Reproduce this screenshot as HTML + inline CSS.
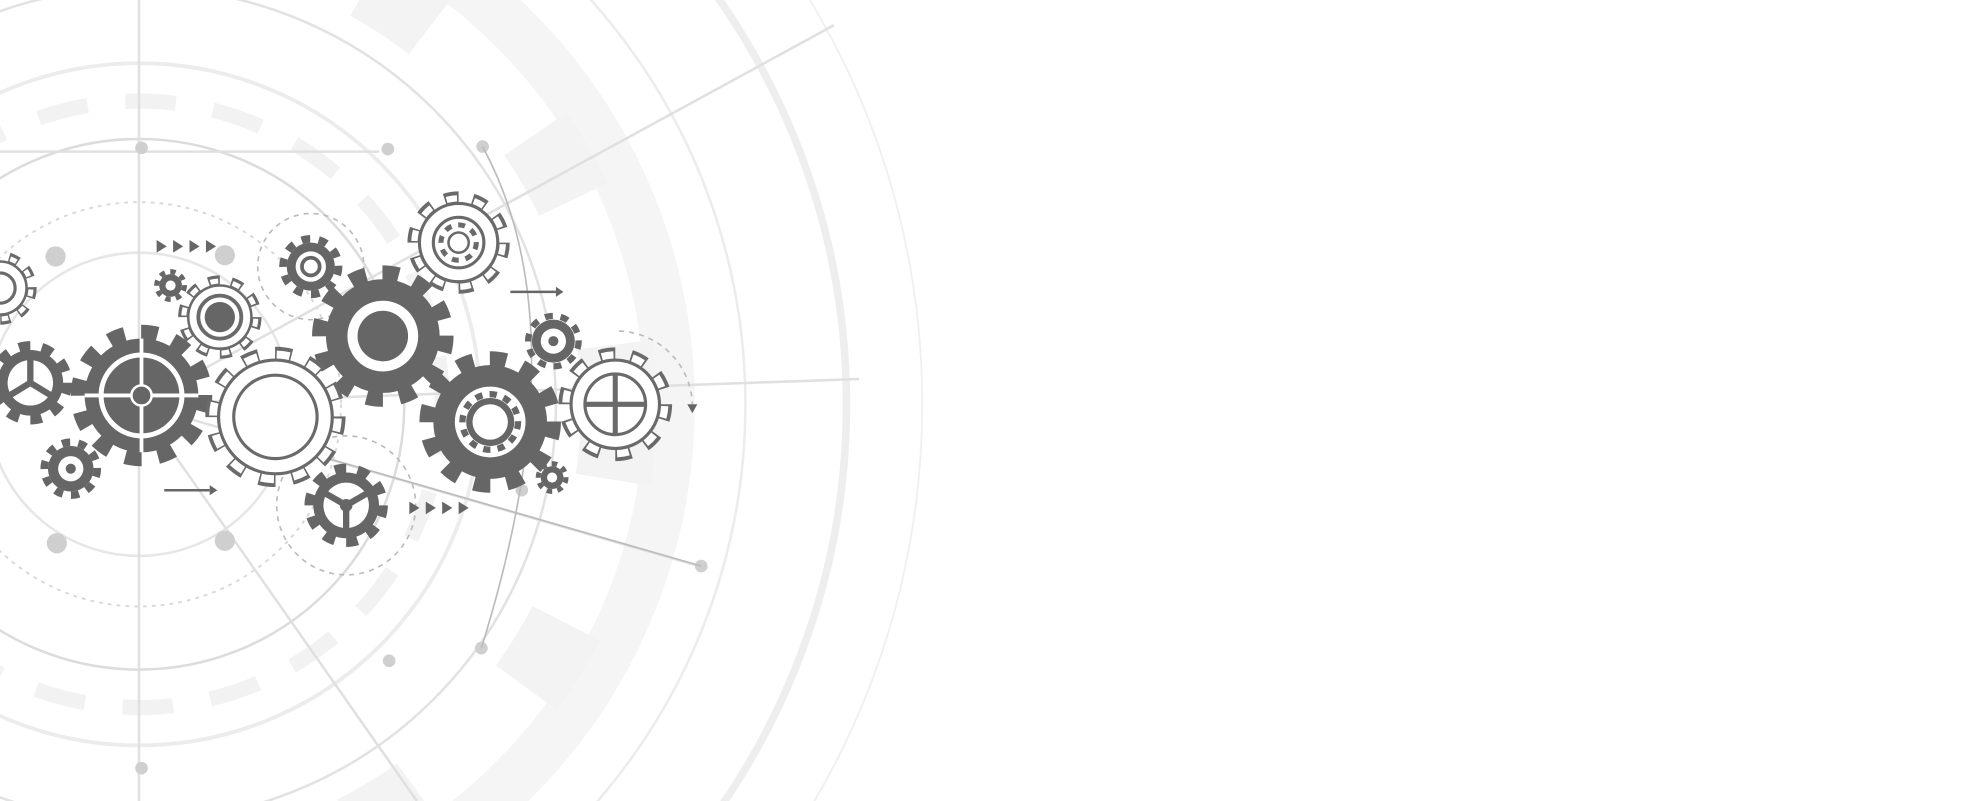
<!DOCTYPE html>
<html><head><meta charset="utf-8"><style>
html,body{margin:0;padding:0;background:#fff;width:1981px;height:801px;overflow:hidden}
svg{display:block}
</style></head><body>
<svg width="1981" height="801" viewBox="0 0 1568 634" preserveAspectRatio="none" xmlns="http://www.w3.org/2000/svg">
<rect width="1568" height="634" fill="#fff"/>
<g fill="none" stroke="#e6e6e6">
<circle cx="110" cy="320" r="120" stroke-width="2"/>
<circle cx="110" cy="320" r="160" stroke-width="1.5" stroke-dasharray="3 4" stroke="#d8d8d8"/>
<circle cx="110" cy="320" r="210" stroke-width="2" stroke="#dcdcdc"/>
<circle cx="110" cy="320" r="270" stroke-width="3" stroke="#ececec"/>
<circle cx="110" cy="320" r="330" stroke-width="2" stroke="#e2e2e2"/>
<circle cx="110" cy="320" r="420" stroke-width="40" stroke="#f5f5f5"/>
<circle cx="110" cy="320" r="480" stroke-width="2" stroke="#ececec"/>
<circle cx="110" cy="320" r="560" stroke-width="6" stroke="#eeeeee"/>
<circle cx="110" cy="320" r="620" stroke-width="1.5" stroke="#f0f0f0"/>
<circle cx="110" cy="320" r="240" stroke-width="12" stroke="#f2f2f2" stroke-dasharray="40 30"/>
<circle cx="110" cy="320" r="380" stroke-width="60" stroke="#f3f3f3" stroke-dasharray="60 120"/>
</g>
<g stroke="#e0e0e0" stroke-width="2">
<line x1="110" y1="320" x2="660" y2="20"/><line x1="110" y1="320" x2="680" y2="300"/>
<line x1="110" y1="320" x2="560" y2="450"/><line x1="110" y1="320" x2="330" y2="634"/>
<line x1="110" y1="0" x2="110" y2="634"/><line x1="0" y1="120" x2="300" y2="120"/>
</g>
<g fill="#cfcfcf">
<circle cx="112" cy="117" r="5"/><circle cx="307" cy="118" r="5"/><circle cx="382" cy="116" r="5"/>
<circle cx="44" cy="203" r="8"/><circle cx="178" cy="202" r="8"/><circle cx="45" cy="430" r="8"/>
<circle cx="178" cy="428" r="8"/><circle cx="555" cy="448" r="5"/><circle cx="381" cy="513" r="5"/>
<circle cx="308" cy="523" r="5"/><circle cx="112" cy="608" r="5"/><circle cx="413" cy="388" r="5"/>
</g>
<g fill="none" stroke="#bbb" stroke-width="1.3">
<path d="M382 116 Q460 260 381 513"/><path d="M180 340 L555 448"/>
<circle cx="274" cy="400" r="55" stroke-dasharray="4 4"/>
<circle cx="246" cy="211" r="42" stroke-dasharray="4 4"/>
<path d="M490 262 A60 60 0 0 1 548 320" stroke-dasharray="4 4"/>
</g>
<g fill="#666"><polygon points="124,190 132,195 124,200"/><polygon points="137,190 145,195 137,200"/><polygon points="150,190 158,195 150,200"/><polygon points="163,190 171,195 163,200"/>
<polygon points="324,397 332,402 324,407"/><polygon points="337,397 345,402 337,407"/><polygon points="350,397 358,402 350,407"/><polygon points="363,397 371,402 363,407"/>
<polygon points="544,320 552,320 548,327"/></g>
<g stroke="#666" stroke-width="2"><line x1="404" y1="231" x2="440" y2="231"/><line x1="130" y1="388" x2="166" y2="388"/></g>
<polygon points="440,227 446,231 440,235" fill="#666"/><polygon points="166,384 172,388 166,392" fill="#666"/>

<circle cx="112" cy="313" r="50" fill="none" stroke="#666" stroke-width="12" pathLength="24" stroke-dasharray="1 1"/>
<circle cx="112" cy="313" r="45" fill="#666"/>
<circle cx="112" cy="313" r="32" fill="none" stroke="#fff" stroke-width="4"/>
<line x1="67" y1="313" x2="157" y2="313" stroke="#fff" stroke-width="3"/><line x1="112" y1="268" x2="112" y2="358" stroke="#fff" stroke-width="3"/>
<circle cx="112" cy="313" r="8" fill="#666" stroke="#fff" stroke-width="2"/>
<circle cx="303" cy="266" r="50" fill="none" stroke="#666" stroke-width="12" pathLength="24" stroke-dasharray="1 1"/>
<circle cx="303" cy="266" r="45" fill="#666"/><circle cx="303" cy="266" r="28" fill="#fff"/><circle cx="303" cy="266" r="20" fill="#666"/>
<circle cx="388" cy="334" r="50" fill="none" stroke="#666" stroke-width="12" pathLength="24" stroke-dasharray="1 1"/>
<circle cx="388" cy="334" r="45" fill="#666"/><circle cx="388" cy="334" r="28" fill="#fff"/>
<circle cx="388" cy="334" r="22" fill="none" stroke="#666" stroke-width="5" pathLength="24" stroke-dasharray="1 1"/><circle cx="388" cy="334" r="19" fill="#666"/><circle cx="388" cy="334" r="14" fill="#fff"/>
<circle cx="274" cy="400" r="29" fill="none" stroke="#666" stroke-width="8" pathLength="20" stroke-dasharray="1 1"/>
<circle cx="274" cy="400" r="26" fill="#666"/><circle cx="274" cy="400" r="18" fill="#fff"/>
<g stroke="#666" stroke-width="5"><line x1="274" y1="400" x2="274" y2="422"/><line x1="274" y1="400" x2="255" y2="389"/><line x1="274" y1="400" x2="293" y2="389"/></g><circle cx="274" cy="400" r="5" fill="#666"/>
<circle cx="24" cy="303" r="29" fill="none" stroke="#666" stroke-width="8" pathLength="20" stroke-dasharray="1 1"/>
<circle cx="24" cy="303" r="26" fill="#666"/><circle cx="24" cy="303" r="18" fill="#fff"/>
<g stroke="#666" stroke-width="5"><line x1="24" y1="303" x2="24" y2="283"/><line x1="24" y1="303" x2="6" y2="314"/><line x1="24" y1="303" x2="42" y2="314"/></g>
<circle cx="246" cy="211" r="22" fill="none" stroke="#666" stroke-width="6" pathLength="20" stroke-dasharray="1 1"/>
<circle cx="246" cy="211" r="19" fill="#666"/><circle cx="246" cy="211" r="12" fill="#fff"/><circle cx="246" cy="211" r="7" fill="none" stroke="#666" stroke-width="3"/>
<circle cx="56" cy="371" r="21" fill="none" stroke="#666" stroke-width="6" pathLength="20" stroke-dasharray="1 1"/>
<circle cx="56" cy="371" r="18" fill="#666"/><circle cx="56" cy="371" r="10" fill="#fff"/><circle cx="56" cy="371" r="4" fill="#666"/>
<circle cx="438" cy="270" r="20" fill="none" stroke="#666" stroke-width="5" pathLength="20" stroke-dasharray="1 1"/>
<circle cx="438" cy="270" r="17" fill="#666"/><circle cx="438" cy="270" r="10" fill="#fff"/><circle cx="438" cy="270" r="4" fill="#666"/>
<circle cx="135" cy="226" r="11" fill="none" stroke="#666" stroke-width="4" pathLength="16" stroke-dasharray="1 1"/>
<circle cx="135" cy="226" r="9" fill="#666"/><circle cx="135" cy="226" r="4" fill="#fff"/>
<circle cx="437" cy="378" r="11" fill="none" stroke="#666" stroke-width="4" pathLength="16" stroke-dasharray="1 1"/>
<circle cx="437" cy="378" r="9" fill="#666"/><circle cx="437" cy="378" r="4" fill="#fff"/>

<g fill="#fff" stroke="#6a6a6a">
<circle cx="218" cy="330" r="50" fill="none" stroke-width="11" pathLength="24" stroke-dasharray="1 1" stroke="#6a6a6a"/>
<circle cx="218" cy="330" r="49" fill="none" stroke-width="7" pathLength="24" stroke-dasharray="0.8 1.2" stroke-dashoffset="-0.1" stroke="#fff"/>
<circle cx="218" cy="330" r="45" stroke-width="2.5"/><circle cx="218" cy="330" r="33" stroke-width="2.5"/>
<circle cx="487" cy="320" r="40" fill="none" stroke-width="10" pathLength="20" stroke-dasharray="1 1" stroke="#6a6a6a"/>
<circle cx="487" cy="320" r="39" fill="none" stroke-width="6" pathLength="20" stroke-dasharray="0.76 1.24" stroke-dashoffset="-0.12" stroke="#fff"/>
<circle cx="487" cy="320" r="35" stroke-width="2.5"/><circle cx="487" cy="320" r="24" stroke-width="2.5"/>
<line x1="463" y1="320" x2="511" y2="320" stroke-width="4"/><line x1="487" y1="296" x2="487" y2="344" stroke-width="4"/>
<circle cx="363" cy="192" r="36" fill="none" stroke-width="9" pathLength="20" stroke-dasharray="1 1" stroke="#6a6a6a"/>
<circle cx="363" cy="192" r="35" fill="none" stroke-width="5" pathLength="20" stroke-dasharray="0.76 1.24" stroke-dashoffset="-0.12" stroke="#fff"/>
<circle cx="363" cy="192" r="31" stroke-width="2.5"/><circle cx="363" cy="192" r="20" stroke-width="2.5"/>
<circle cx="363" cy="192" r="14" fill="none" stroke-width="4" pathLength="16" stroke-dasharray="1 1"/><circle cx="363" cy="192" r="8" stroke-width="2"/>
<circle cx="174" cy="251" r="29" fill="none" stroke-width="8" pathLength="20" stroke-dasharray="1 1" stroke="#6a6a6a"/>
<circle cx="174" cy="251" r="28.5" fill="none" stroke-width="4" pathLength="20" stroke-dasharray="0.7 1.3" stroke-dashoffset="-0.15" stroke="#fff"/>
<circle cx="174" cy="251" r="25" stroke-width="2"/><circle cx="174" cy="251" r="17" stroke-width="3"/><circle cx="174" cy="251" r="12" fill="#666" stroke="none"/>
<circle cx="0" cy="228" r="25" fill="none" stroke-width="8" pathLength="20" stroke-dasharray="1 1" stroke="#6a6a6a"/>
<circle cx="0" cy="228" r="24.5" fill="none" stroke-width="4" pathLength="20" stroke-dasharray="0.7 1.3" stroke-dashoffset="-0.15" stroke="#fff"/>
<circle cx="0" cy="228" r="21" stroke-width="2"/><circle cx="0" cy="228" r="12" stroke-width="2.5"/>
</g>
</svg>
</body></html>
